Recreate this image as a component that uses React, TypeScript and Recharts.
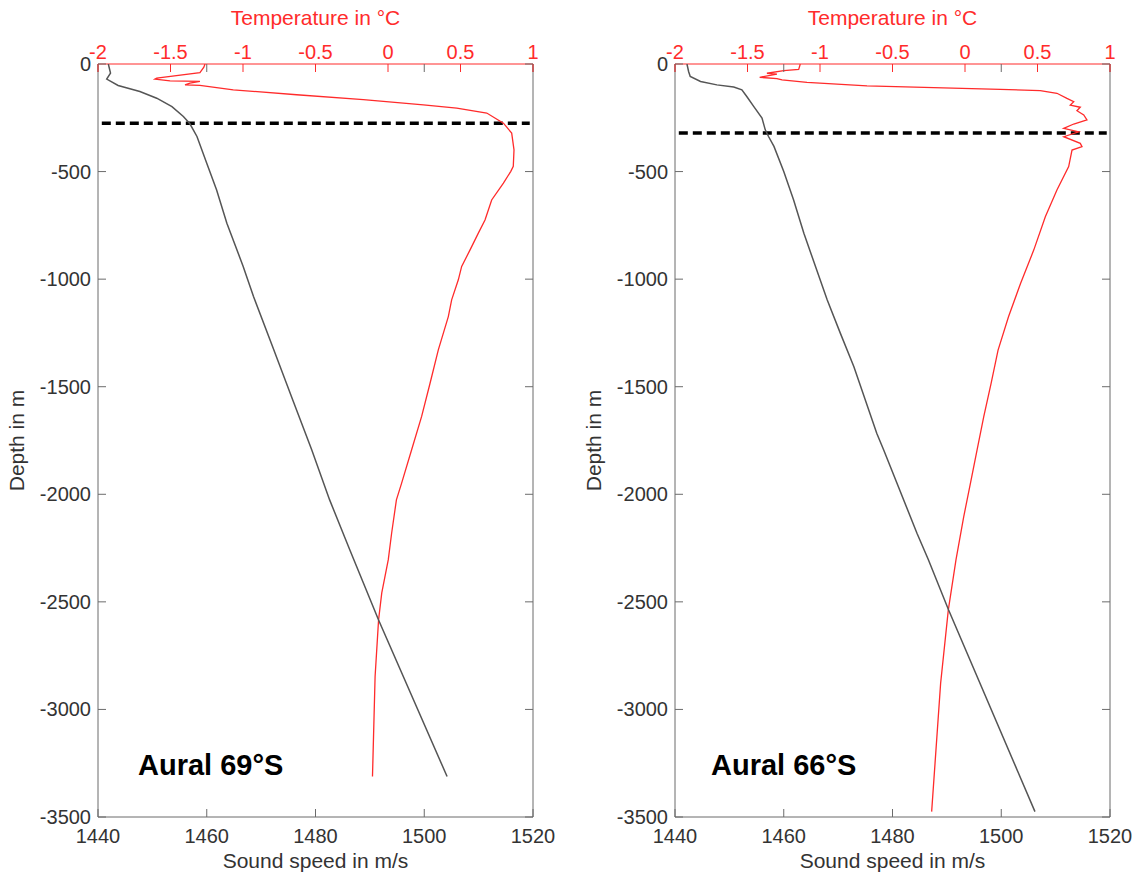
import { ScatterChart, Scatter, XAxis, YAxis, ReferenceLine } from 'recharts';

// axis ticks
const speedTicks = [1440, 1460, 1480, 1500, 1520];
const tempTicks = [-2, -1.5, -1, -0.5, 0, 0.5, 1];
const depthTicks = [0, -500, -1000, -1500, -2000, -2500, -3000, -3500];

// Aural 69°S - temperature profile
const tempDepth69 = [0, -15, -40, -66, -70, -78, -81, -89, -97, -99, -120, -143, -166, -190, -205, -228, -275, -321, -399, -476, -500, -554, -632, -725, -786, -864, -941, -1003, -1096, -1174, -1329, -1484, -1638, -1793, -1948, -2026, -2181, -2304, -2458, -2584, -2847, -3312];
const temp69 = [-1.262, -1.27, -1.297, -1.595, -1.607, -1.503, -1.297, -1.366, -1.4, -1.297, -1.067, -0.63, -0.17, 0.244, 0.474, 0.681, 0.796, 0.853, 0.869, 0.864, 0.846, 0.796, 0.715, 0.669, 0.623, 0.566, 0.508, 0.485, 0.439, 0.416, 0.347, 0.29, 0.232, 0.163, 0.094, 0.058, 0.025, 0.002, -0.043, -0.065, -0.089, -0.107];

// Aural 69°S - sound speed profile
const speedDepth69 = [0, -42, -70, -100, -128, -159, -198, -244, -278, -337, -461, -585, -740, -941, -1081, -1313, -1561, -1793, -2026, -2258, -2584, -3312];
const speed69 = [1441.9, 1442.3, 1441.6, 1443.7, 1447.7, 1450.8, 1453.6, 1455.7, 1456.9, 1458.2, 1460.0, 1461.8, 1463.7, 1466.7, 1468.6, 1472.1, 1475.8, 1479.3, 1482.6, 1486.3, 1491.6, 1504.2];

// Aural 66°S - temperature profile
const tempDepth66 = [0, -25, -31, -43, -47, -62, -68, -74, -85, -102, -110, -118, -124, -136, -160, -175, -191, -201, -217, -237, -260, -279, -299, -315, -338, -369, -384, -400, -477, -586, -710, -865, -1020, -1175, -1330, -1484, -1640, -1795, -1950, -2105, -2304, -2537, -2878, -3475];
const temp66 = [-1.136, -1.147, -1.25, -1.366, -1.297, -1.416, -1.297, -1.262, -1.09, -0.676, -0.216, 0.243, 0.519, 0.634, 0.703, 0.75, 0.726, 0.795, 0.772, 0.819, 0.841, 0.75, 0.681, 0.784, 0.681, 0.795, 0.807, 0.738, 0.715, 0.634, 0.554, 0.474, 0.383, 0.3, 0.228, 0.18, 0.129, 0.083, 0.037, -0.009, -0.062, -0.115, -0.168, -0.23];

// Aural 66°S - sound speed profile
const speedDepth66 = [0, -35, -58, -81, -97, -107, -120, -151, -198, -251, -306, -337, -383, -500, -631, -787, -1097, -1251, -1407, -1716, -1795, -2181, -2304, -2537, -3475];
const speed66 = [1442.2, 1442.5, 1442.8, 1444.7, 1447.7, 1450.8, 1452.3, 1453.2, 1454.5, 1456.0, 1456.6, 1457.2, 1458.2, 1460.0, 1461.8, 1463.7, 1468.0, 1470.4, 1472.9, 1477.1, 1478.4, 1484.5, 1486.6, 1490.3, 1506.2];

// dashed line depths
const mld69 = -275;
const mld66 = -321;

const PLOT_LEFT = 98;
const PLOT_W = 435;
const PLOT_H = 753;
const AXIS_GRAY = '#6b6b6b';
const TEXT = '#333333';
const RED = '#ff2b2b';
const FONT = '"Liberation Sans", Arial, sans-serif';

const DepthTick = (props: any) => {
  const { x, y, payload } = props;
  return (
    <g>
      <line x1={x} x2={x + 8} y1={y} y2={y} stroke={AXIS_GRAY} />
      <line x1={x + PLOT_W - 8} x2={x + PLOT_W} y1={y} y2={y} stroke={AXIS_GRAY} />
      <text x={x - 7} y={y} dy="0.35em" textAnchor="end" fill={TEXT} fontSize={20} fontFamily={FONT}>
        {payload.value}
      </text>
    </g>
  );
};

const SpeedTick = (props: any) => {
  const { x, y, payload } = props;
  return (
    <g>
      <line x1={x} x2={x} y1={y} y2={y - 8} stroke={AXIS_GRAY} />
      <line x1={x} x2={x} y1={y - PLOT_H} y2={y - PLOT_H + 8} stroke={AXIS_GRAY} />
      <text x={x} y={y + 26} textAnchor="middle" fill={TEXT} fontSize={20} fontFamily={FONT}>
        {payload.value}
      </text>
    </g>
  );
};

const TempTick = (props: any) => {
  const { x, y, payload } = props;
  return (
    <g>
      <line x1={x} x2={x} y1={y} y2={y + 8} stroke={RED} />
      <text x={x} y={y - 5} textAnchor="middle" fill={RED} fontSize={20} fontFamily={FONT}>
        {payload.value}
      </text>
    </g>
  );
};

const noDot = () => <g />;

interface PanelProps {
  left: number;
  width: number;
  tempDepth: number[];
  temp: number[];
  speedDepth: number[];
  speed: number[];
  mld: number;
  title: string;
  titleX: number;
}

const Panel = ({ left, width, tempDepth, temp, speedDepth, speed, mld, title, titleX }: PanelProps) => {
  const tempPts = tempDepth.map((d, i) => ({ depth: d, value: temp[i] }));
  const speedPts = speedDepth.map((d, i) => ({ depth: d, value: speed[i] }));
  return (
    <div style={{ position: 'absolute', left, top: 0, width, height: 872 }}>
      <ScatterChart
        width={width}
        height={872}
        margin={{ top: 0, right: width - PLOT_LEFT - PLOT_W, bottom: 0, left: 0 }}
      >
        <XAxis
          xAxisId="speed"
          dataKey="value"
          type="number"
          orientation="bottom"
          domain={[1440, 1520]}
          ticks={speedTicks}
          interval={0}
          height={55}
          allowDataOverflow
          axisLine={{ stroke: AXIS_GRAY }}
          tickLine={false}
          tickSize={0}
          tickMargin={0}
          tick={(p: any) => <SpeedTick {...p} />}
          label={{ value: 'Sound speed in m/s', position: 'insideBottom', offset: 4, fill: TEXT, fontSize: 21, fontFamily: FONT }}
        />
        <XAxis
          xAxisId="temp"
          dataKey="value"
          type="number"
          orientation="top"
          domain={[-2, 1]}
          ticks={tempTicks}
          interval={0}
          height={64}
          allowDataOverflow
          axisLine={{ stroke: RED }}
          tickLine={false}
          tickSize={0}
          tickMargin={0}
          tick={(p: any) => <TempTick {...p} />}
          label={{ value: 'Temperature in °C', position: 'insideTop', offset: 10, fill: RED, fontSize: 21, fontFamily: FONT }}
        />
        <YAxis
          dataKey="depth"
          type="number"
          domain={[-3500, 0]}
          ticks={depthTicks}
          interval={0}
          width={PLOT_LEFT}
          allowDataOverflow
          axisLine={{ stroke: AXIS_GRAY }}
          tickLine={false}
          tickSize={0}
          tickMargin={0}
          tick={(p: any) => <DepthTick {...p} />}
          label={{ value: 'Depth in m', angle: -90, position: 'insideLeft', offset: 17, fill: TEXT, fontSize: 21, fontFamily: FONT, style: { textAnchor: 'middle' } }}
        />
        <ReferenceLine xAxisId="speed" x={1520} stroke={AXIS_GRAY} />
        <ReferenceLine
          xAxisId="speed"
          segment={[{ x: 1440.7, y: mld }, { x: 1519.4, y: mld }]}
          stroke="#000"
          strokeWidth={3.5}
          strokeDasharray="9 5"
        />
        <Scatter
          xAxisId="temp"
          data={tempPts}
          fill={RED}
          line={{ stroke: RED, strokeWidth: 1.3 }}
          shape={noDot}
          isAnimationActive={false}
        />
        <Scatter
          xAxisId="speed"
          data={speedPts}
          fill="#555"
          line={{ stroke: '#555555', strokeWidth: 1.5 }}
          shape={noDot}
          isAnimationActive={false}
        />
      </ScatterChart>
      <svg width={width} height={872} style={{ position: 'absolute', left: 0, top: 0, pointerEvents: 'none' }}>
        <text x={titleX} y={775} fontSize={29} fontWeight="bold" fontFamily={FONT} fill="#000">
          {title}
        </text>
      </svg>
    </div>
  );
};

export default function App() {
  return (
    <div style={{ position: 'absolute', left: 0, top: 0, width: 1138, height: 872, background: '#fff', overflow: 'hidden' }}>
      <Panel left={0} width={569} tempDepth={tempDepth69} temp={temp69} speedDepth={speedDepth69} speed={speed69} mld={mld69} title="Aural 69°S" titleX={138} />
      <Panel left={577} width={561} tempDepth={tempDepth66} temp={temp66} speedDepth={speedDepth66} speed={speed66} mld={mld66} title="Aural 66°S" titleX={134} />
    </div>
  );
}
